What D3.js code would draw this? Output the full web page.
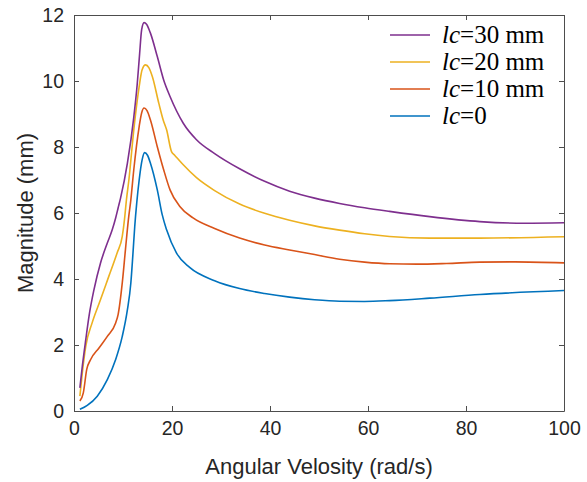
<!DOCTYPE html>
<html><head><meta charset="utf-8">
<script src="https://cdn.jsdelivr.net/npm/d3@7"></script>
<style>body{margin:0;background:#fff;}svg{display:block;}</style>
</head><body>
<script>
// ---- data ----
const xTicks = [0, 20, 40, 60, 80, 100];
const yTicks = [0, 2, 4, 6, 8, 10, 12];
const legendLabels = ["=30 mm", "=20 mm", "=10 mm", "=0"];

const x0 = [1.2, 2.7, 4.75, 6.8, 8.5, 9.85, 10.9, 11.6, 12.0, 12.4, 12.8, 13.3, 13.9, 14.4, 15.0, 15.6, 17.0, 18.0, 18.9, 20.9, 23.6, 28.7, 33.8, 38.9, 44, 49.1, 54.2, 59.3, 64.4, 72.6, 82.8, 100];
const y0 = [0.05, 0.17, 0.45, 0.95, 1.56, 2.26, 3.07, 3.88, 4.7, 5.6, 6.3, 7.0, 7.61, 7.83, 7.75, 7.51, 6.70, 5.95, 5.49, 4.79, 4.35, 3.95, 3.71, 3.56, 3.45, 3.37, 3.325, 3.32, 3.345, 3.42, 3.53, 3.65];

const x10 = [1.2, 1.9, 2.6, 3.4, 5.1, 6.8, 8.5, 9.0, 9.85, 10.5, 11.1, 11.6, 12.2, 13.3, 13.8, 14.3, 14.9, 15.6, 17.0, 18.3, 19.6, 21.6, 24.3, 28.7, 33.8, 38.9, 44, 49.1, 54.2, 59.3, 64.4, 70, 76, 82.8, 90, 100];
const y10 = [0.30, 0.55, 1.26, 1.56, 1.91, 2.26, 2.67, 2.92, 3.88, 4.89, 5.8, 6.4, 7.31, 8.62, 9.03, 9.18, 9.1, 8.82, 8.01, 7.31, 6.70, 6.20, 5.85, 5.53, 5.24, 5.03, 4.88, 4.74, 4.60, 4.51, 4.46, 4.45, 4.47, 4.51, 4.52, 4.49];

const x20 = [1.2, 1.7, 2.4, 3.7, 5.4, 7.1, 8.8, 9.85, 10.3, 10.7, 11.2, 12.2, 13.3, 13.9, 14.6, 15.3, 16.0, 17.3, 18.2, 18.9, 19.9, 20.5, 22.3, 25.0, 28.7, 33.8, 38.9, 44, 49.1, 54.2, 59.3, 64.4, 72.6, 82.8, 100];
const y20 = [0.45, 1.16, 1.96, 2.67, 3.37, 4.08, 4.79, 5.29, 5.8, 6.4, 7.0, 8.52, 9.83, 10.34, 10.49, 10.4, 10.13, 9.33, 8.82, 8.52, 7.86, 7.76, 7.46, 7.07, 6.68, 6.27, 5.99, 5.78, 5.61, 5.48, 5.37, 5.29, 5.24, 5.24, 5.28];

const x30 = [1.2, 1.7, 2.4, 3.06, 4.08, 5.4, 6.8, 7.8, 8.5, 9.0, 9.5, 10.9, 12.2, 12.9, 13.4, 13.8, 14.3, 14.8, 15.6, 17.0, 18.3, 19.6, 22.3, 25.0, 28.7, 33.8, 38.9, 44, 49.1, 54.2, 59.3, 64.4, 72.6, 82.8, 92, 100];
const y30 = [0.70, 1.36, 2.16, 2.87, 3.68, 4.48, 5.09, 5.49, 5.85, 6.15, 6.45, 7.51, 8.9, 9.9, 10.84, 11.55, 11.77, 11.72, 11.45, 10.74, 10.03, 9.53, 8.72, 8.22, 7.80, 7.34, 6.96, 6.66, 6.45, 6.29, 6.16, 6.05, 5.89, 5.74, 5.69, 5.705];

const seriesX = [x30, x20, x10, x0];
const seriesY = [y30, y20, y10, y0];
const colors = ["#7E2F8E", "#EDB120", "#D95319", "#0072BD"];

// ---- layout ----
const W = 587, H = 482;
const m = {left: 74, right: 23, top: 15, bottom: 71};
const svg = d3.select("body").append("svg").attr("width", W).attr("height", H);
const xs = d3.scaleLinear().domain([0, 100]).range([m.left, W - m.right]);
const ys = d3.scaleLinear().domain([0, 12]).range([H - m.bottom, m.top]);
const axisColor = "#4d4d4d", textColor = "#262626";
const tickFont = "Liberation Sans, Arial, sans-serif";

// lines
const line = d3.line().x(d => xs(d[0])).y(d => ys(d[1])).curve(d3.curveMonotoneX);
seriesX.slice().reverse().forEach((xa, ri) => {
  const i = seriesX.length - 1 - ri;
  const pts = xa.map((v, k) => [v, seriesY[i][k]]);
  svg.append("path").datum(pts).attr("d", line).attr("fill", "none")
    .attr("stroke", colors[i]).attr("stroke-width", 1.6).attr("stroke-linejoin", "round");
});

// axes (box)
function styleAxis(g) {
  g.selectAll(".domain").attr("stroke", axisColor).attr("stroke-width", 1);
  g.selectAll(".tick line").attr("stroke", axisColor).attr("stroke-width", 1);
  g.selectAll(".tick text").attr("fill", textColor).attr("font-family", tickFont).attr("font-size", 19.5);
}
const gx = svg.append("g").attr("transform", `translate(0,${H - m.bottom})`)
  .call(d3.axisBottom(xs).tickValues(xTicks).tickSizeInner(-5).tickSizeOuter(0).tickPadding(10));
styleAxis(gx);
const gxt = svg.append("g").attr("transform", `translate(0,${m.top})`)
  .call(d3.axisTop(xs).tickValues(xTicks).tickSizeInner(-5).tickSizeOuter(0).tickFormat(""));
styleAxis(gxt);
const gy = svg.append("g").attr("transform", `translate(${m.left},0)`)
  .call(d3.axisLeft(ys).tickValues(yTicks).tickSizeInner(-5).tickSizeOuter(0).tickPadding(10));
styleAxis(gy);
const gyr = svg.append("g").attr("transform", `translate(${W - m.right},0)`)
  .call(d3.axisRight(ys).tickValues(yTicks).tickSizeInner(-5).tickSizeOuter(0).tickFormat(""));
styleAxis(gyr);

// axis titles
svg.append("text").attr("x", (xs(0) + xs(100)) / 2).attr("y", 474)
  .attr("text-anchor", "middle").attr("fill", textColor).attr("font-family", tickFont)
  .attr("font-size", 22).text("Angular Velosity (rad/s)");
svg.append("text").attr("transform", `translate(33,${(ys(0) + ys(12)) / 2}) rotate(-90)`)
  .attr("text-anchor", "middle").attr("fill", textColor).attr("font-family", tickFont)
  .attr("font-size", 22).text("Magnitude (mm)");

// legend
const lg = svg.append("g");
legendLabels.forEach((lab, i) => {
  const yy = 35 + i * 27;
  lg.append("line").attr("x1", 390).attr("x2", 430).attr("y1", yy).attr("y2", yy)
    .attr("stroke", colors[i]).attr("stroke-width", 1.6);
  const t = lg.append("text").attr("x", 442).attr("y", yy + 8)
    .attr("font-family", "Liberation Serif, Times New Roman, serif").attr("font-size", 25).attr("fill", "#000");
  t.append("tspan").attr("font-style", "italic").text("lc");
  t.append("tspan").text(lab);
});
</script>
</body></html>
